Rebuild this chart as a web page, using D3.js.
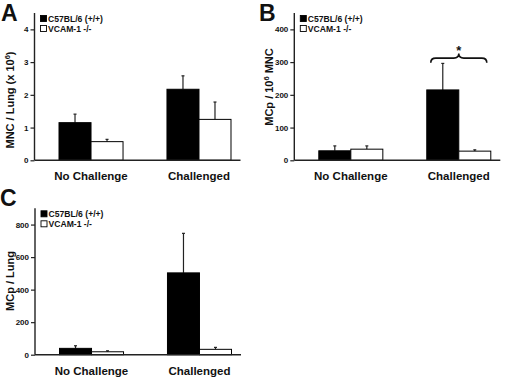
<!DOCTYPE html>
<html>
<head>
<meta charset="utf-8">
<script src="https://cdn.jsdelivr.net/npm/d3@7"></script>
<style>
  body { margin: 0; background: #fff; }
  svg text { font-family: "Liberation Sans", Arial, sans-serif; font-weight: bold; fill: #111; }
</style>
</head>
<body>
<div id="chart"></div>
<script>
// data
const categories = ["No Challenge", "Challenged"];
const series = ["C57BL/6 (+/+)", "VCAM-1 -/-"];

const mncWild = [1.15, 2.17], mncWildErr = [0.26, 0.41];
const mncKo = [0.57, 1.25], mncKoErr = [0.07, 0.53];
const mncTicks = [0, 1, 2, 3, 4];

const mcpMncWild = [29, 215], mcpMncWildErr = [15, 81];
const mcpMncKo = [34, 28], mcpMncKoErr = [10, 4];
const mcpMncTicks = [0, 100, 200, 300, 400];

const mcpLungWild = [39, 503], mcpLungWildErr = [16, 243];
const mcpLungKo = [18, 33], mcpLungKoErr = [6, 12];
const mcpLungTicks = [0, 200, 400, 600, 800];

const svg = d3.select("#chart").append("svg")
    .attr("width", 520)
    .attr("height", 377);

// one bar panel
function panel(opt) {
    const g = svg.append("g").attr("transform", `translate(${opt.left},0)`);

    const y = d3.scaleLinear().domain([0, opt.max]).range([opt.bottom, opt.top]);
    const x = d3.scaleBand().domain(categories).range([0, 221])
        .paddingInner(0.407).paddingOuter(0.227);
    const xs = d3.scaleBand().domain(series).range([0, x.bandwidth()]);

    const rows = [];
    categories.forEach((c, i) => {
        rows.push({cat: c, s: series[0], v: opt.wild[i], e: opt.wildErr[i]});
        rows.push({cat: c, s: series[1], v: opt.ko[i], e: opt.koErr[i]});
    });

    // error bars (upper only)
    const eb = g.selectAll(".err").data(rows).join("g").attr("class", "err");
    eb.append("line")
        .attr("x1", d => x(d.cat) + xs(d.s) + xs.bandwidth() / 2)
        .attr("x2", d => x(d.cat) + xs(d.s) + xs.bandwidth() / 2)
        .attr("y1", d => y(d.v))
        .attr("y2", d => y(d.v + d.e))
        .attr("stroke", "#222").attr("stroke-width", 1.2);
    eb.append("line")
        .attr("x1", d => x(d.cat) + xs(d.s) + xs.bandwidth() / 2 - 1.5)
        .attr("x2", d => x(d.cat) + xs(d.s) + xs.bandwidth() / 2 + 1.5)
        .attr("y1", d => y(d.v + d.e))
        .attr("y2", d => y(d.v + d.e))
        .attr("stroke", "#222").attr("stroke-width", 1.2);

    g.selectAll(".bar").data(rows).join("rect")
        .attr("x", d => x(d.cat) + xs(d.s))
        .attr("y", d => y(d.v))
        .attr("width", xs.bandwidth())
        .attr("height", d => y(0) - y(d.v))
        .attr("fill", d => d.s === series[0] ? "#000" : "#fff")
        .attr("stroke", "#000")
        .attr("stroke-width", 1);

    // axes
    const ya = g.append("g")
        .call(d3.axisLeft(y).tickValues(opt.ticks).tickSize(4).tickPadding(2).tickFormat(d3.format("d")));
    ya.select(".domain").remove();
    ya.selectAll("line").attr("stroke", "#222").attr("stroke-width", 1.2);
    ya.selectAll("text").style("font-size", "8px");

    g.append("line").attr("x1", 0).attr("x2", 0)
        .attr("y1", opt.top).attr("y2", opt.bottom)
        .attr("stroke", "#222").attr("stroke-width", 1.4);
    g.append("line").attr("x1", 0).attr("x2", 206)
        .attr("y1", opt.bottom).attr("y2", opt.bottom)
        .attr("stroke", "#222").attr("stroke-width", 1.4);

    g.selectAll(".cat").data(categories).join("text")
        .attr("x", d => x(d) + x.bandwidth() / 2)
        .attr("y", opt.bottom + 20)
        .attr("text-anchor", "middle")
        .style("font-size", "11.5px")
        .text(d => d);

    // legend
    const lg = g.selectAll(".lg").data(series).join("g")
        .attr("transform", (d, i) => `translate(6,${opt.top + 2.5 + i * 10})`);
    lg.append("rect").attr("width", 6).attr("height", 6)
        .attr("fill", (d, i) => i === 0 ? "#000" : "#fff")
        .attr("stroke", "#000").attr("stroke-width", 0.9);
    lg.append("text").attr("x", 7.5).attr("y", 6.3)
        .style("font-size", "8.6px")
        .text(d => d);

    // y title
    const t = g.append("text")
        .attr("transform", `translate(-21,${opt.titleY}) rotate(-90)`)
        .attr("text-anchor", "middle")
        .style("font-size", "11px");
    opt.title.forEach(p => {
        t.append("tspan")
            .attr("dy", p.sup ? -4 : (p.after ? 4 : null))
            .style("font-size", p.sup ? "7.5px" : null)
            .text(p.t);
    });

    // panel letter
    svg.append("text")
        .attr("x", opt.letterX).attr("y", opt.letterY)
        .style("font-size", "23px")
        .text(opt.letter);

    return {g, x, xs, y};
}

panel({
    left: 34.5, top: 13, bottom: 160.3, max: 4.5, ticks: mncTicks,
    wild: mncWild, wildErr: mncWildErr, ko: mncKo, koErr: mncKoErr,
    title: [{t: "MNC / Lung (x 10"}, {t: "6", sup: true}, {t: ")", after: true}], titleY: 100,
    letter: "A", letterX: 1, letterY: 21
});

const pb = panel({
    left: 294.3, top: 13, bottom: 160.3, max: 450, ticks: mcpMncTicks,
    wild: mcpMncWild, wildErr: mcpMncWildErr, ko: mcpMncKo, koErr: mcpMncKoErr,
    title: [{t: "MCp / 10"}, {t: "6", sup: true}, {t: " MNC", after: true}], titleY: 87,
    letter: "B", letterX: 259, letterY: 21
});

panel({
    left: 35, top: 208.3, bottom: 354.7, max: 900, ticks: mcpLungTicks,
    wild: mcpLungWild, wildErr: mcpLungWildErr, ko: mcpLungKo, koErr: mcpLungKoErr,
    title: [{t: "MCp / Lung"}], titleY: 281,
    letter: "C", letterX: 0, letterY: 206
});

// significance brace on panel B
const c = categories[1];
const xl = pb.x(c) + pb.xs(series[0]) + 4;
const xr = pb.x(c) + pb.xs(series[1]) + pb.xs.bandwidth() - 4;
const xc = pb.x(c) + pb.x.bandwidth() / 2;
const yTip = pb.y(298), yLine = pb.y(312), yCusp = pb.y(326);
const br = d3.path();
br.moveTo(xl, yTip);
br.quadraticCurveTo(xl, yLine, xl + 5, yLine);
br.lineTo(xc - 5, yLine);
br.quadraticCurveTo(xc, yLine, xc, yCusp);
br.quadraticCurveTo(xc, yLine, xc + 5, yLine);
br.lineTo(xr - 5, yLine);
br.quadraticCurveTo(xr, yLine, xr, yTip);
pb.g.append("path").attr("d", br.toString())
    .attr("fill", "none").attr("stroke", "#111").attr("stroke-width", 1.6);
pb.g.append("text").attr("x", xc).attr("y", pb.y(326) + 1)
    .attr("text-anchor", "middle")
    .style("font-size", "13px")
    .text("*");
</script>
</body>
</html>
